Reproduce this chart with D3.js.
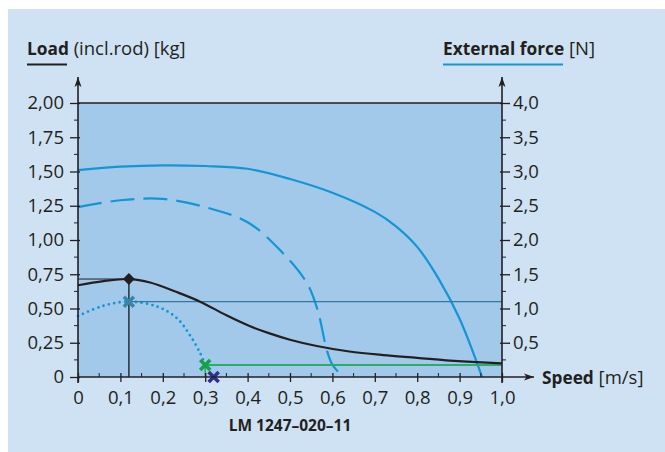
<!DOCTYPE html>
<html>
<head>
<meta charset="utf-8">
<script src="https://cdn.jsdelivr.net/npm/d3@7"></script>
<style>
    body { margin: 0; background: #ffffff; }
    svg text { font-family: "Open Sans", "Noto Sans", sans-serif; fill: #231f20; }
</style>
</head>
<body>
<div class="chart_container"></div>
<script>
// speed [m/s] vs. external force [N] (right axis)
const solidSpeed = [0, 0.1, 0.2, 0.3, 0.4, 0.5, 0.6, 0.7, 0.75, 0.8, 0.85, 0.9, 0.953];
const solidForce = [3.02, 3.07, 3.09, 3.08, 3.04, 2.89, 2.69, 2.41, 2.2, 1.9, 1.44, 0.85, 0];
const dashSpeed = [0, 0.1, 0.2, 0.3, 0.4, 0.48, 0.54, 0.565, 0.587, 0.6, 0.625];
const dashForce = [2.48, 2.58, 2.6, 2.48, 2.26, 1.83, 1.37, 0.98, 0.39, 0.18, 0];
const dotSpeed = [0, 0.06, 0.12, 0.186, 0.233, 0.264, 0.288, 0.3];
const dotForce = [0.89, 1.04, 1.1, 1.03, 0.86, 0.61, 0.35, 0.18];
// speed [m/s] vs. load [kg] (left axis)
const loadSpeed = [0, 0.06, 0.12, 0.17, 0.233, 0.288, 0.35, 0.406, 0.45, 0.5, 0.563, 0.64, 0.72, 0.8, 0.877, 0.94, 1.0];
const loadValue = [0.67, 0.7, 0.715, 0.69, 0.62, 0.55, 0.45, 0.37, 0.32, 0.272, 0.226, 0.186, 0.16, 0.14, 0.12, 0.108, 0.1];
// markers
const peakPoint = [0.12, 0.715];
const tealPoint = [0.12, 0.55];
const greenPoint = [0.3, 0.088];
const navyPoint = [0.32, 0];
// ticks
const loadTicks = [0, 0.25, 0.5, 0.75, 1, 1.25, 1.5, 1.75, 2];
const forceTicks = [0.5, 1, 1.5, 2, 2.5, 3, 3.5, 4];
const speedTicks = [0, 0.1, 0.2, 0.3, 0.4, 0.5, 0.6, 0.7, 0.8, 0.9, 1];

//^ DIMENSIONS //
const width = 665;
const height = 452;
const plotLeft = 78, plotRight = 502, plotTop = 103, plotBottom = 377;
const fontSize = "18.5px";
const boldSize = "17.3px";

const svg = d3.select(".chart_container").append("svg").attr("width", width).attr("height", height);

//^ BACKGROUND //
svg.append("rect").attr("x", 8).attr("y", 9).attr("width", width - 8).attr("height", height - 9).attr("fill", "#cfe2f3");
svg.append("rect").attr("x", plotLeft).attr("y", plotTop).attr("width", plotRight - plotLeft).attr("height", plotBottom - plotTop).attr("fill", "#a2c9e9");

//^ SCALES //
const x = d3.scaleLinear().domain([0, 1]).range([plotLeft, plotRight]);
const yLoad = d3.scaleLinear().domain([0, 2]).range([plotBottom, plotTop]);
const yForce = d3.scaleLinear().domain([0, 4]).range([plotBottom, plotTop]);

//^ TOP LINE //
svg.append("line").attr("x1", plotLeft).attr("x2", plotRight).attr("y1", yLoad(2)).attr("y2", yLoad(2)).attr("stroke", "#231f20").attr("stroke-width", 1.3);

//^ CURVES //
const lineOf = (xs, ys, yScale) =>
    d3.line().curve(d3.curveCatmullRom.alpha(0.5)).x((d, i) => x(xs[i])).y((d, i) => yScale(ys[i]))(xs);

const plot = svg.append("g");
plot.append("path").attr("d", lineOf(solidSpeed, solidForce, yForce)).attr("fill", "none").attr("stroke", "#1496d4").attr("stroke-width", 2.2);
plot.append("path").attr("d", lineOf(dashSpeed, dashForce, yForce))
    .attr("fill", "none").attr("stroke", "#1496d4").attr("stroke-width", 2.2).attr("stroke-dasharray", "24,9");
plot.append("path").attr("d", lineOf(dotSpeed, dotForce, yForce))
    .attr("fill", "none").attr("stroke", "#1496d4").attr("stroke-width", 2.8).attr("stroke-dasharray", "0,5.5").attr("stroke-linecap", "round");

//^ HELPER LINES //
plot.append("line").attr("x1", x(tealPoint[0])).attr("x2", x(1)).attr("y1", yLoad(tealPoint[1])).attr("y2", yLoad(tealPoint[1])).attr("stroke", "#2f7aa3").attr("stroke-width", 1.2);
plot.append("line").attr("x1", x(0)).attr("x2", x(peakPoint[0])).attr("y1", yLoad(peakPoint[1])).attr("y2", yLoad(peakPoint[1])).attr("stroke", "#231f20").attr("stroke-width", 1);
plot.append("line").attr("x1", x(peakPoint[0])).attr("x2", x(peakPoint[0])).attr("y1", yLoad(peakPoint[1])).attr("y2", yLoad(0)).attr("stroke", "#2a3a44").attr("stroke-width", 1.6);
plot.append("line").attr("x1", x(greenPoint[0])).attr("x2", x(1)).attr("y1", yLoad(greenPoint[1])).attr("y2", yLoad(greenPoint[1])).attr("stroke", "#2eaa6a").attr("stroke-width", 2);
plot.append("line").attr("x1", x(greenPoint[0])).attr("x2", x(greenPoint[0])).attr("y1", yLoad(greenPoint[1])).attr("y2", yLoad(0)).attr("stroke", "#2eaa6a").attr("stroke-width", 1.6);

//^ LOAD CURVE //
plot.append("path").attr("d", lineOf(loadSpeed, loadValue, yLoad)).attr("fill", "none").attr("stroke", "#231f20").attr("stroke-width", 2.2);

//^ MARKERS //
const cross = (p, color) => {
    const cx = x(p[0]), cy = yLoad(p[1]), r = 5;
    plot.append("path").attr("d", `M${cx - r},${cy - r}L${cx + r},${cy + r}M${cx + r},${cy - r}L${cx - r},${cy + r}`)
        .attr("stroke", color).attr("stroke-width", 3.6).attr("fill", "none");
};
plot.append("path").attr("d", d3.symbol(d3.symbolDiamond2, 90)()).attr("transform", `translate(${x(peakPoint[0])},${yLoad(peakPoint[1])})`).attr("fill", "#231f20");
cross(tealPoint, "#3a84a8");
cross(greenPoint, "#16a049");
cross(navyPoint, "#2e3192");

//^ AXES //
const axisColor = "#231f20";
const leftAxis = svg.append("g").attr("transform", `translate(${plotLeft},0)`)
    .call(d3.axisLeft(yLoad).tickValues(loadTicks).tickSize(8).tickPadding(6).tickFormat((d) => (d === 0 ? "0" : d3.format(".2f")(d).replace(".", ","))));
const rightAxis = svg.append("g").attr("transform", `translate(${plotRight},0)`)
    .call(d3.axisRight(yForce).tickValues(forceTicks).tickSize(8).tickPadding(3).tickFormat((d) => d3.format(".1f")(d).replace(".", ",")));
const bottomAxis = svg.append("g").attr("transform", `translate(0,${plotBottom})`)
    .call(d3.axisBottom(x).tickValues(speedTicks).tickSize(6).tickPadding(8).tickFormat((d) => (d === 0 ? "0" : d3.format(".1f")(d).replace(".", ","))));

[leftAxis, rightAxis, bottomAxis].forEach((g) => {
    g.select(".domain").remove();
    g.attr("font-size", null).attr("font-family", null);
    g.selectAll("line").attr("stroke", axisColor).attr("stroke-width", 1.3);
    g.selectAll("text").style("font-size", fontSize).attr("fill", axisColor);
});
leftAxis.selectAll(".tick line").attr("x1", 2);
rightAxis.selectAll(".tick line").attr("x1", -2);
bottomAxis.selectAll(".tick line").attr("y1", -4).attr("y2", 5);

//^ MINOR TICKS //
svg.append("g").selectAll("line").data(d3.range(0.125, 2, 0.25)).enter().append("line")
    .attr("x1", plotLeft - 4).attr("x2", plotLeft).attr("y1", (d) => yLoad(d)).attr("y2", (d) => yLoad(d)).attr("stroke", axisColor);
svg.append("g").selectAll("line").data(d3.range(0.25, 4, 0.5)).enter().append("line")
    .attr("x1", plotRight).attr("x2", plotRight + 4).attr("y1", (d) => yForce(d)).attr("y2", (d) => yForce(d)).attr("stroke", axisColor);
svg.append("g").selectAll("line").data(d3.range(0.05, 1, 0.1)).enter().append("line")
    .attr("x1", (d) => x(d)).attr("x2", (d) => x(d)).attr("y1", plotBottom - 4).attr("y2", plotBottom).attr("stroke", axisColor);

//^ AXIS LINES WITH ARROWS //
svg.append("defs").append("marker").attr("id", "arrow").attr("viewBox", "0 0 10 10").attr("refX", 10).attr("refY", 5)
    .attr("markerWidth", 10).attr("markerHeight", 10).attr("markerUnits", "userSpaceOnUse").attr("orient", "auto")
    .append("path").attr("d", "M0,1.5L10,5L0,8.5L2.5,5Z").attr("fill", axisColor);
svg.append("line").attr("x1", plotLeft).attr("x2", plotLeft).attr("y1", plotBottom + 6).attr("y2", 77).attr("stroke", axisColor).attr("stroke-width", 1.6).attr("marker-end", "url(#arrow)");
svg.append("line").attr("x1", plotRight).attr("x2", plotRight).attr("y1", plotBottom + 6).attr("y2", 77).attr("stroke", axisColor).attr("stroke-width", 1.6).attr("marker-end", "url(#arrow)");
svg.append("line").attr("x1", plotLeft).attr("x2", 534).attr("y1", plotBottom).attr("y2", plotBottom).attr("stroke", axisColor).attr("stroke-width", 1.6).attr("marker-end", "url(#arrow)");

//^ TITLES //
const loadTitle = svg.append("text").attr("x", 27).attr("y", 55).style("font-size", fontSize);
loadTitle.append("tspan").attr("font-weight", "bold").style("font-size", boldSize).text("Load");
loadTitle.append("tspan").text(" (incl.rod) [kg]");
svg.append("line").attr("x1", 27).attr("x2", 67).attr("y1", 64.5).attr("y2", 64.5).attr("stroke", "#231f20").attr("stroke-width", 2);

const forceTitle = svg.append("text").attr("x", 443).attr("y", 55).style("font-size", fontSize);
forceTitle.append("tspan").attr("font-weight", "bold").style("font-size", boldSize).text("External force");
forceTitle.append("tspan").text(" [N]");
svg.append("line").attr("x1", 443).attr("x2", 563).attr("y1", 64.5).attr("y2", 64.5).attr("stroke", "#1496d4").attr("stroke-width", 2);

const speedTitle = svg.append("text").attr("x", 542).attr("y", 384).style("font-size", fontSize);
speedTitle.append("tspan").attr("font-weight", "bold").style("font-size", boldSize).text("Speed");
speedTitle.append("tspan").text(" [m/s]");

svg.append("text").attr("x", 290).attr("y", 431).attr("text-anchor", "middle").style("font-size", "15.5px").attr("font-weight", "bold").text("LM 1247–020–11");
</script>
</body>
</html>
